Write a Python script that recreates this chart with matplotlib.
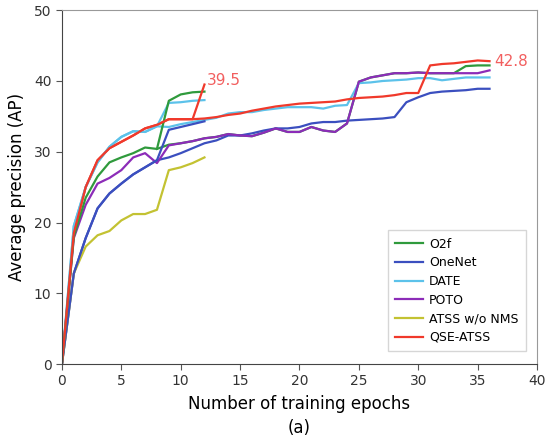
import numpy as np
import matplotlib
matplotlib.use('Agg')
import matplotlib.pyplot as plt

# epochs for the 12-epoch and 36-epoch schedules
ep12 = list(range(0, 13))
ep36 = list(range(0, 37))

# O2f: short schedule, and the long schedule (mostly hidden under POTO)
o2f_12 = [0, 18.0, 23.5, 26.5, 28.5, 29.2, 29.8, 30.6, 30.4, 37.2, 38.1, 38.4, 38.5]
o2f_36_ep = list(range(8, 37))
o2f_36 = [30.4, 31.0, 31.2, 31.5, 31.9, 32.1, 32.5, 32.3, 32.2, 32.7, 33.3, 32.8,
          32.8, 33.5, 33.0, 32.8, 34.0, 39.9, 40.5, 40.8, 41.1, 41.1, 41.2, 41.1,
          41.1, 41.1, 42.1, 42.2, 42.2]

# OneNet
onenet_12 = [0, 12.8, 17.8, 22.0, 24.1, 25.5, 26.8, 27.8, 28.8, 33.1, 33.5, 33.9, 34.3]
onenet_36 = [0, 12.8, 17.8, 22.0, 24.1, 25.5, 26.8, 27.8, 28.8, 29.2, 29.8, 30.5,
             31.2, 31.6, 32.3, 32.3, 32.6, 33.0, 33.3, 33.3, 33.5, 34.0, 34.2, 34.2,
             34.4, 34.5, 34.6, 34.7, 34.9, 37.0, 37.7, 38.3, 38.5, 38.6, 38.7, 38.9, 38.9]

# DATE
date_12 = [0, 19.5, 25.0, 28.5, 30.7, 32.1, 32.9, 32.8, 33.6, 36.9, 37.0, 37.2, 37.3]
date_36 = [0, 19.5, 25.0, 28.5, 30.7, 32.1, 32.9, 32.8, 33.6, 33.5, 33.9, 34.2,
           34.5, 34.8, 35.4, 35.6, 35.6, 35.9, 36.1, 36.3, 36.3, 36.3, 36.1, 36.5,
           36.6, 39.7, 39.8, 40.0, 40.1, 40.2, 40.4, 40.4, 40.1, 40.3, 40.5, 40.5, 40.5]

# POTO
poto_36 = [0, 17.8, 22.5, 25.5, 26.3, 27.4, 29.2, 29.8, 28.4, 30.9, 31.2, 31.5,
           31.9, 32.1, 32.5, 32.3, 32.2, 32.7, 33.3, 32.8, 32.8, 33.5, 33.0, 32.8,
           34.0, 39.9, 40.5, 40.8, 41.1, 41.1, 41.2, 41.1, 41.1, 41.1, 41.1, 41.1, 41.5]

# ATSS w/o NMS
atss_12 = [0, 12.8, 16.6, 18.2, 18.8, 20.3, 21.2, 21.2, 21.8, 27.4, 27.8, 28.4, 29.2]

# QSE-ATSS
qse_12 = [0, 18.5, 25.0, 28.8, 30.5, 31.4, 32.3, 33.3, 33.8, 34.6, 34.6, 34.6, 39.5]
qse_36 = [0, 18.5, 25.0, 28.8, 30.5, 31.4, 32.3, 33.3, 33.8, 34.6, 34.6, 34.6,
          34.7, 34.9, 35.2, 35.4, 35.8, 36.1, 36.4, 36.6, 36.8, 36.9, 37.0, 37.1,
          37.4, 37.6, 37.7, 37.8, 38.0, 38.3, 38.3, 42.2, 42.4, 42.5, 42.7, 42.9, 42.8]

c_green = '#2f9a3c'
c_blue = '#3b4fbf'
c_cyan = '#5cc2ea'
c_purple = '#8c2cb8'
c_yellow = '#c3c232'
c_red = '#f0392b'
lw = 1.6

fig = plt.figure(figsize=(5.48, 4.44), dpi=100)
ax = fig.add_axes([0.113, 0.18, 0.867, 0.797])

ax.plot(o2f_36_ep, o2f_36, color=c_green, lw=lw)
ax.plot(ep36, onenet_36, color=c_blue, lw=lw)
ax.plot(ep36, date_36, color=c_cyan, lw=lw)
ax.plot(ep36, poto_36, color=c_purple, lw=lw, label='POTO')
ax.plot(ep12, atss_12, color=c_yellow, lw=lw, label='ATSS w/o NMS')
ax.plot(ep36, qse_36, color=c_red, lw=lw)
ax.plot(ep12, onenet_12, color=c_blue, lw=lw, label='OneNet')
ax.plot(ep12, date_12, color=c_cyan, lw=lw, label='DATE')
ax.plot(ep12, o2f_12, color=c_green, lw=lw, label='O2f')
ax.plot(ep12, qse_12, color=c_red, lw=lw, label='QSE-ATSS')

ax.text(12.2, qse_12[-1] + 0.6, '39.5', color='#f25f5f', fontsize=11,
        ha='left', va='center')
ax.text(36.4, qse_36[-1], '42.8', color='#f25f5f', fontsize=11,
        ha='left', va='center')

ax.set_xlim(0, 40)
ax.set_ylim(0, 50)
ax.set_xticks(range(0, 41, 5))
ax.set_yticks(range(0, 51, 10))
ax.tick_params(labelsize=10, length=4, color='#555555', labelcolor='#333333')
for s in ['left', 'bottom']:
    ax.spines[s].set_color('#444444')
for s in ['top', 'right']:
    ax.spines[s].set_color('#999999')

ax.set_ylabel('Average precision (AP)', fontsize=12, labelpad=6)
ax.set_xlabel('Number of training epochs', fontsize=12, labelpad=5)
fig.text(0.546, 0.037, '(a)', fontsize=12, ha='center', va='center')

handles, labels = ax.get_legend_handles_labels()
order = ['O2f', 'OneNet', 'DATE', 'POTO', 'ATSS w/o NMS', 'QSE-ATSS']
hmap = dict(zip(labels, handles))
ax.legend([hmap[k] for k in order], order, loc='lower right', fontsize=9,
          handlelength=2.2, handletextpad=0.5, labelspacing=0.45,
          frameon=True, fancybox=False, edgecolor='#cccccc',
          borderpad=0.6, bbox_to_anchor=(0.99, 0.018))

fig.savefig('out.png', dpi=100)
